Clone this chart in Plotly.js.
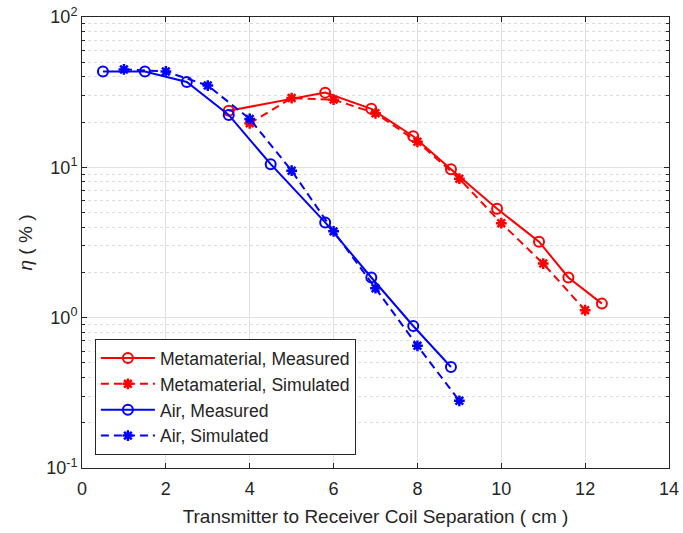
<!DOCTYPE html>
<html>
<head>
<meta charset="utf-8">
<script src="https://cdn.plot.ly/plotly-3.0.1.min.js"></script>
<style>html,body{margin:0;padding:0;background:#fff;}#chart{width:683px;height:533px;}</style>
</head>
<body>
<div id="chart"></div>
<script>
const metaMeasX = [3.5, 5.8, 6.9, 7.9, 8.8, 9.9, 10.9, 11.6, 12.4];
const metaMeasY = [23.8, 31.4, 24.5, 16.1, 9.7, 5.3, 3.2, 1.85, 1.24];
const metaSimX = [4, 5, 6, 7, 8, 9, 10, 11, 12];
const metaSimY = [19.6, 28.9, 28.2, 22.9, 14.8, 8.4, 4.25, 2.29, 1.12];
const airMeasX = [0.5, 1.5, 2.5, 3.5, 4.5, 5.8, 6.9, 7.9, 8.8];
const airMeasY = [43.4, 43.4, 37, 22.3, 10.5, 4.3, 1.85, 0.88, 0.47];
const airSimX = [1, 2, 3, 4, 5, 6, 7, 8, 9];
const airSimY = [44.8, 43.4, 35, 21, 9.5, 3.75, 1.57, 0.65, 0.28];
const yTickVals = [0.1, 1, 10, 100];
const yTickText = ['10<sup>-1</sup>', '10<sup>0</sup>', '10<sup>1</sup>', '10<sup>2</sup>'];
const xTickVals = [0, 2, 4, 6, 8, 10, 12, 14];
const names = ['Metamaterial, Measured', 'Metamaterial, Simulated', 'Air, Measured', 'Air, Simulated'];

const minorVals = [];
[0.1, 1, 10].forEach(d => { for (let k = 2; k <= 9; k++) minorVals.push(d * k); });

const RED = '#FF0000', BLUE = '#0000FF';
function meas(x, y, c, n) {
  return {x: x, y: y, name: n, type: 'scatter', mode: 'lines+markers',
    line: {color: c, width: 2},
    marker: {symbol: 'circle-open', size: 10, color: c, line: {width: 2, color: c}}};
}
function sim(x, y, c, n) {
  return {x: x, y: y, name: n, type: 'scatter', mode: 'lines+markers',
    line: {color: c, width: 2, dash: '8px,5px'},
    marker: {symbol: 'asterisk-open', size: 9, color: c, line: {width: 2.5, color: c}}};
}
const data = [
  meas(metaMeasX, metaMeasY, RED, names[0]),
  sim(metaSimX, metaSimY, RED, names[1]),
  meas(airMeasX, airMeasY, BLUE, names[2]),
  sim(airSimX, airSimY, BLUE, names[3])
];
const FAM = 'Liberation Sans, Arial, sans-serif';
const tickFont = {family: FAM, size: 18, color: '#262626'};
const titleFont = {family: FAM, size: 19, color: '#262626'};
const layout = {
  width: 683, height: 533,
  margin: {l: 82, r: 14, t: 17, b: 65},
  paper_bgcolor: '#fff', plot_bgcolor: '#fff',
  showlegend: true,
  legend: {x: 0.022, y: 0.286, xanchor: 'left', yanchor: 'top',
    bgcolor: '#fff', bordercolor: '#262626', borderwidth: 1,
    font: {family: FAM, size: 17.6, color: '#262626'},
    itemwidth: 54, tracegroupgap: 0},
  xaxis: {
    range: [0, 14], tickmode: 'array', tickvals: xTickVals,
    ticks: 'inside', ticklen: 5, tickcolor: '#262626', tickwidth: 1,
    showline: true, linecolor: '#262626', linewidth: 1, mirror: 'ticks',
    showgrid: true, gridcolor: '#e1e1e1', gridwidth: 1, zeroline: false,
    tickfont: tickFont, ticklabelstandoff: 4,
    title: {text: 'Transmitter to Receiver Coil Separation ( cm )', font: titleFont, standoff: 12}
  },
  yaxis: {
    type: 'log', range: [-1, 2], tickmode: 'array', tickvals: yTickVals, ticktext: yTickText,
    ticks: 'inside', ticklen: 5, tickcolor: '#262626', tickwidth: 1,
    showline: true, linecolor: '#262626', linewidth: 1, mirror: 'ticks',
    showgrid: true, gridcolor: '#e1e1e1', gridwidth: 1, zeroline: false,
    tickfont: tickFont,
    minor: {tickmode: 'array', tickvals: minorVals, ticks: 'inside', ticklen: 3,
      tickcolor: '#262626', showgrid: true, gridcolor: '#dcdcdc', griddash: 'dot', gridwidth: 1},
    title: {text: '<i>η</i> ( % )', font: titleFont, standoff: 8}
  }
};
Plotly.newPlot('chart', data, layout, {displayModeBar: false, staticPlot: true});
</script>
</body>
</html>
